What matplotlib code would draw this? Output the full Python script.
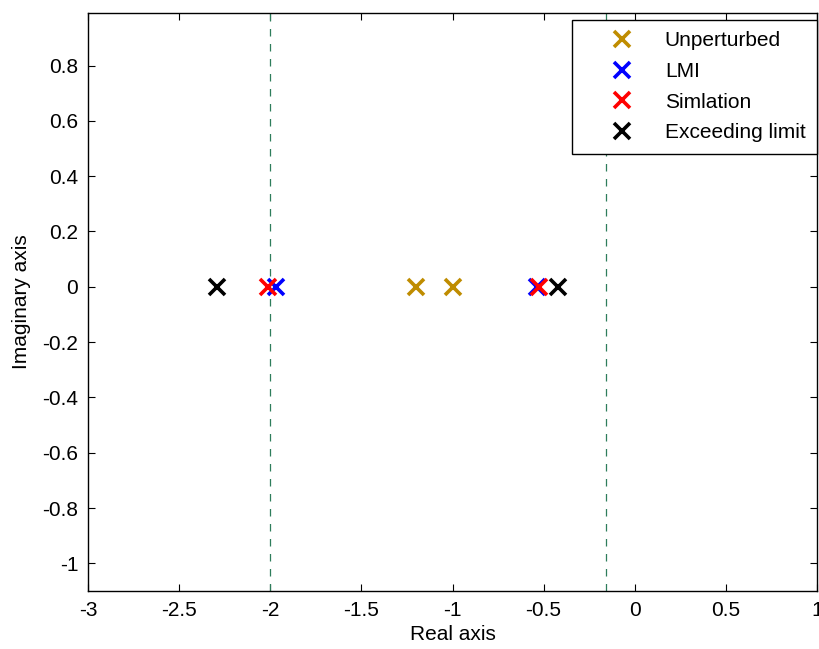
import numpy as np
import matplotlib
matplotlib.use('Agg')
import matplotlib.pyplot as plt

plt.rcParams['font.family'] = ['Liberation Sans', 'DejaVu Sans']

# pole locations (real parts, all on the real axis)
unperturbed = [-1.2, -1.0]
lmi = [-1.97, -0.535]
simulation = [-2.01, -0.524]
exceeding = [-2.29, -0.42]
limits = [-2.0, -0.16]

fig = plt.figure(figsize=(8.19, 6.49), dpi=100)
ax = fig.add_axes([88/819, 1 - 591/649, (817 - 88)/819, (591 - 13)/649])

for xl in limits:
    ax.axvline(xl, color='#2E7D5B', linestyle=(0, (6, 6)), linewidth=0.9)

mk = dict(marker='x', linestyle='none', markersize=11, markeredgewidth=2.6)
ax.plot(unperturbed, np.zeros(len(unperturbed)), color='#BF8C00', label='Unperturbed', **mk)
ax.plot(lmi, np.zeros(len(lmi)), color='#0000FF', label='LMI', **mk)
ax.plot(simulation, np.zeros(len(simulation)), color='#FF0000', label='Simlation', **mk)
ax.plot(exceeding, np.zeros(len(exceeding)), color='black', label='Exceeding limit', **mk)

ax.set_xlim(-3, 1)
ax.set_ylim(-1.1, 0.99)
ax.set_xticks(np.arange(-3, 1.01, 0.5))
ax.set_xticklabels(['-3', '-2.5', '-2', '-1.5', '-1', '-0.5', '0', '0.5', '1'])
ax.set_yticks(np.arange(-1, 0.81, 0.2))
ax.set_yticklabels(['-1', '-0.8', '-0.6', '-0.4', '-0.2', '0', '0.2', '0.4', '0.6', '0.8'])
ax.tick_params(direction='in', top=True, right=True, length=5, width=0.8,
               labelsize=15, pad=7)
for s in ax.spines.values():
    s.set_linewidth(1.0)

ax.set_xlabel('Real axis', fontsize=15, labelpad=4)
ax.set_ylabel('Imaginary axis', fontsize=15, labelpad=8)

leg = ax.legend(loc='upper right', bbox_to_anchor=(1.0, 0.988), fontsize=15,
                fancybox=False, framealpha=1, edgecolor='black',
                handlelength=3.7, handletextpad=0.2, borderpad=0.55,
                labelspacing=0.56, borderaxespad=0)
leg.get_frame().set_linewidth(1.0)

fig.savefig('out.png', dpi=100)
